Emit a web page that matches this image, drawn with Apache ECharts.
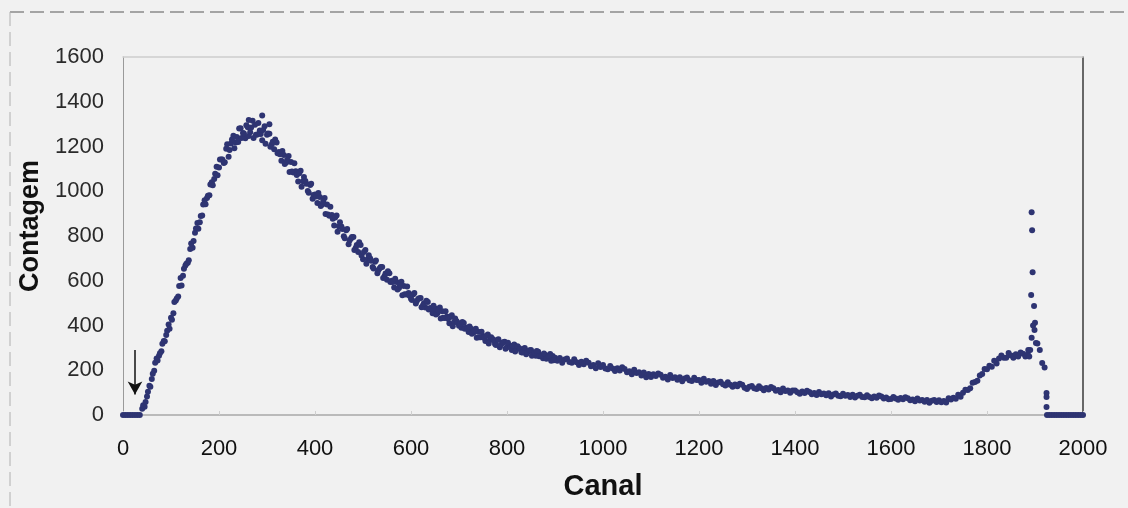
<!DOCTYPE html>
<html>
<head>
<meta charset="utf-8">
<script src="https://cdn.jsdelivr.net/npm/echarts@6/dist/echarts.min.js"></script>
<style>
  html, body { margin: 0; padding: 0; background: #f1f1f1; }
  #chart { width: 1128px; height: 508px; }
</style>
</head>
<body>
<div id="chart"></div>
<script>
// contagem por canal, um ponto a cada 5 canais (0, 5, 10 ... 2000)
var channelStep = 5;
var counts = [
  0,0,0,0,0,0,0,0,28,37,83,131,161,198,252,265,285,331,357,405,
  435,455,512,530,612,622,668,680,742,748,815,858,862,892,960,970,982,1040,1055,1110,
  1106,1142,1126,1190,1154,1213,1248,1218,1220,1282,1260,1237,1286,1264,1315,1297,1254,1271,1228,1291,
  1252,1257,1210,1188,1218,1175,1136,1162,1128,1157,1131,1084,1089,1044,1092,1045,1046,1001,1028,966,
  985,948,974,941,970,941,891,894,847,892,842,842,799,826,763,789,795,748,728,760,
  696,737,697,699,662,685,633,656,661,621,605,634,600,570,594,568,595,576,538,545,
  520,540,498,518,523,490,480,505,478,455,476,455,480,464,433,440,410,446,416,419,
  399,390,411,390,371,386,368,386,372,348,353,331,360,336,340,317,335,303,321,327,
  304,309,291,315,296,300,281,296,271,285,290,271,265,283,267,254,268,257,273,264,
  256,242,255,233,248,253,237,233,249,236,224,238,227,242,234,218,223,209,231,215,
  223,208,204,219,208,197,209,199,213,206,191,195,182,202,188,191,177,190,169,183,
  170,182,174,186,180,167,171,159,179,165,169,157,169,151,163,168,155,152,167,156,
  156,144,162,149,152,140,152,134,145,149,137,132,146,135,126,136,129,140,135,122,
  116,126,130,119,116,128,119,111,121,114,125,120,108,112,102,118,107,109,99,109,
  110,102,95,105,98,108,103,93,98,89,103,93,96,88,97,83,92,96,86,84,
  95,86,89,81,90,78,86,90,81,79,88,81,75,83,77,87,83,74,78,70,
  72,81,74,68,76,70,79,75,66,69,62,74,65,67,59,67,55,64,67,58,
  66,57,63,56,75,69,77,73,90,82,100,113,112,120,144,148,153,176,183,206,
  204,220,216,243,230,253,266,256,256,277,266,256,271,262,279,274,262,272,290,638,
  412,320,290,232,212,0,0,0,0,0,0,0,0,0,0,0,0,0,0,0,
  0
];

// canais intermédios (42, 47 ... 897), onde a banda é mais larga
var midStart = 42;
var midCounts = [
  44,58,104,126,184,234,244,276,318,330,376,386,
  426,505,521,576,579,654,676,692,766,778,834,832,889,941,942,980,1030,1027,1078,1072,
  1142,1142,1130,1210,1184,1231,1192,1242,1280,1238,1258,1295,1247,1285,1238,1252,1305,1256,1274,1212,
  1258,1199,1221,1231,1170,1165,1180,1122,1141,1086,1088,1125,1073,1081,1020,1064,1034,993,1033,983,
  976,992,934,954,898,896,931,877,883,819,861,831,790,831,780,795,737,760,772,713,
  728,676,714,689,655,690,647,661,612,632,643,594,594,609,561,580,535,540,574,533,
  514,545,510,522,482,500,511,472,474,488,449,466,431,435,464,430,438,397,431,412,
  407,416,385,386,396,363,375,345,348,372,345,353,320,348,334,313,339,313,325,296,
  323,303,309,284,307,295,279,300,279,289,265,278,286,263,264,275,251,264,242,245
];

// pontos extra (pico final e topo do máximo)
var extraChannels = [1893, 1894, 1892, 1898, 1896, 1899, 1893, 1902, 1886, 1888, 1924, 1924, 1924, 290, 262, 305];
var extraCounts   = [906, 826, 536, 487, 400, 380, 345, 322, 290, 262, 98, 80, 36, 1338, 1318, 1300];

var xTicks = { min: 0, max: 2000, interval: 200 };
var yTicks = { min: 0, max: 1600, interval: 200 };

// seta a indicar o limiar
var arrowChannel = 25;
var arrowFrom = 290;
var arrowTo = 92;

var points = counts.map(function (v, i) { return [i * channelStep, v]; });
midCounts.forEach(function (v, i) { points.push([midStart + i * channelStep, v]); });
for (var k = 0; k < extraChannels.length; k++) {
  points.push([extraChannels[k], extraCounts[k]]);
}

var chart = echarts.init(document.getElementById('chart'));
var font = 'Liberation Sans, Arial, sans-serif';
var plain = function (v) { return String(v); };

var option = {
  backgroundColor: '#f1f1f1',
  animation: false,
  grid: { left: 123, right: 45, top: 57, bottom: 93 },
  graphic: [
    { type: 'line', shape: { x1: 10, y1: 12, x2: 1128, y2: 12 },
      style: { stroke: '#8a8a8a', lineWidth: 1.5, lineDash: [14, 6] } },
    { type: 'line', shape: { x1: 10, y1: 12, x2: 10, y2: 508 },
      style: { stroke: '#b0b0b0', lineWidth: 1, lineDash: [14, 6] } }
  ],
  xAxis: [{
    type: 'value',
    min: xTicks.min, max: xTicks.max, interval: xTicks.interval,
    name: 'Canal',
    nameLocation: 'middle',
    nameGap: 57,
    nameTextStyle: { fontFamily: font, fontSize: 29, fontWeight: 'bold', color: '#111' },
    axisLine: { show: true, onZero: false, lineStyle: { color: '#a8a8a8', width: 1.5 } },
    axisTick: { show: true, inside: true, length: 4, lineStyle: { color: '#cfcfcf' } },
    axisLabel: { fontFamily: font, fontSize: 22, color: '#111', margin: 23, formatter: plain },
    splitLine: { show: false }
  }, {
    type: 'value', position: 'top',
    min: xTicks.min, max: xTicks.max,
    axisLine: { show: true, onZero: false, lineStyle: { color: '#cdcdcd', width: 1.5 } },
    axisTick: { show: false }, axisLabel: { show: false }, splitLine: { show: false }
  }],
  yAxis: [{
    type: 'value',
    min: yTicks.min, max: yTicks.max, interval: yTicks.interval,
    name: 'Contagem',
    nameLocation: 'middle',
    nameGap: 70,
    nameTextStyle: { fontFamily: font, fontSize: 27, fontWeight: 'bold', color: '#111', padding: [0, 0, 0, 20] },
    axisLine: { show: true, onZero: false, lineStyle: { color: '#9a9a9a', width: 1 } },
    axisTick: { show: false },
    axisLabel: { fontFamily: font, fontSize: 22, color: '#2a2a2a', margin: 19, formatter: plain },
    splitLine: { show: false }
  }, {
    type: 'value', position: 'right',
    min: yTicks.min, max: yTicks.max,
    axisLine: { show: true, onZero: false, lineStyle: { color: '#3a3a3a', width: 1.5 } },
    axisTick: { show: false }, axisLabel: { show: false }, splitLine: { show: false }
  }],
  series: [{
    type: 'scatter',
    data: points,
    symbol: 'circle',
    symbolSize: 6,
    itemStyle: { color: '#2e3472', opacity: 1 },
    markLine: {
      silent: true,
      symbol: ['none', 'arrow'],
      symbolSize: [11, 13],
      label: { show: false },
      lineStyle: { color: '#111', width: 1.5, type: 'solid' },
      data: [[{ coord: [arrowChannel, arrowFrom] }, { coord: [arrowChannel, arrowTo] }]]
    }
  }]
};

chart.setOption(option);
</script>
</body>
</html>
